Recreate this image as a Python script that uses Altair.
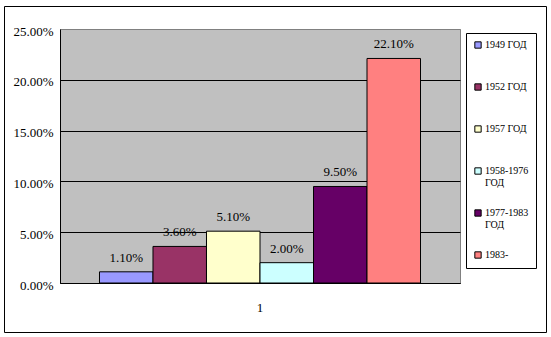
import altair as alt
import pandas as pd

categories = ["1"]
series = ["1949 ГОД", "1952 ГОД", "1957 ГОД", "1958-1976 ГОД", "1977-1983 ГОД", "1983-"]
values = [0.011, 0.036, 0.051, 0.020, 0.095, 0.221]
colors = ["#9999FF", "#993366", "#FFFFCC", "#CCFFFF", "#660066", "#FF8080"]
y_ticks = [0, 0.05, 0.10, 0.15, 0.20, 0.25]

df = pd.DataFrame({"cat": categories * len(series), "series": series, "value": values})

FONT = "Liberation Serif, Times New Roman, serif"

x = alt.X("cat:N", title=None,
          scale=alt.Scale(paddingOuter=0.123, paddingInner=0),
          axis=alt.Axis(labelAngle=0, ticks=False, domain=True, domainColor="black",
                        labelPadding=18, labelFontSize=13, labelFont=FONT, labelColor="black"))
xo = alt.XOffset("series:N", sort=series, scale=alt.Scale(paddingInner=0, paddingOuter=0))
y = alt.Y("value:Q", title=None, scale=alt.Scale(domain=[0, 0.25], nice=False),
          axis=alt.Axis(format=".2%", values=y_ticks, ticks=False, grid=True,
                        gridColor={"condition": {"test": "datum.value >= 0.25", "value": "#808080"}, "value": "black"},
                        gridOpacity=1, domainColor="black", labelPadding=7,
                        labelFontSize=13, labelFont=FONT, labelColor="black", labelOffset=2))

legend = alt.Legend(title=None, orient="none", legendX=406, legendY=4,
                    fillColor="white", strokeColor="black", padding=7,
                    symbolType="square", symbolSize=40, symbolStrokeColor="black",
                    symbolStrokeWidth=1, labelFont=FONT, labelFontSize=10,
                    labelColor="black", labelOffset=2, gridAlign="all", rowPadding=19,
                    labelExpr="length(datum.label) > 9 ? split(datum.label, ' ') : datum.label")

color = alt.Color("series:N", sort=series,
                  scale=alt.Scale(domain=series, range=colors), legend=legend)

bars = alt.Chart(df).mark_bar(stroke="black", strokeWidth=1).encode(
    x=x, xOffset=xo, y=y, color=color)

labels = alt.Chart(df).mark_text(baseline="bottom", dy=-7, fontSize=13, font=FONT,
                                 color="black").encode(
    x=alt.X("cat:N"), xOffset=alt.XOffset("series:N", sort=series), y=alt.Y("value:Q"),
    text=alt.Text("value:Q", format=".2%"))

frame = alt.Chart(pd.DataFrame({"f": [0]})).mark_rect(
    fill="transparent", stroke="black", strokeWidth=1, clip=False).encode(
    x=alt.value(-55.5), x2=alt.value(486.5), y=alt.value(-22.5), y2=alt.value(303.5))

chart = alt.layer(frame, bars, labels).properties(
    width=400, height=254,
    padding={"left": 60, "top": 29, "right": 91, "bottom": 54},
    autosize="none",
    background="white",
).configure_view(fill="#C0C0C0", stroke="#808080")

chart.save("out.html", embed_options={"renderer": "svg", "actions": False})
